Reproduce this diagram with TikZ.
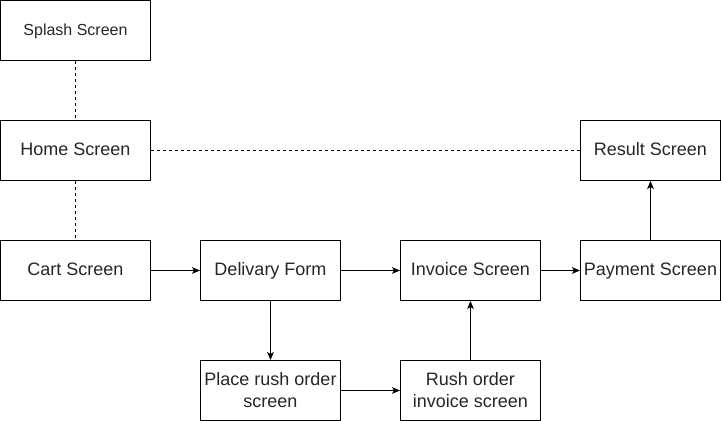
\documentclass[tikz,border=0pt]{standalone}
\usepackage{fontspec}
\setmainfont{Liberation Sans}
\usetikzlibrary{arrows.meta}
\begin{document}
\begin{tikzpicture}[x=0.75pt,y=-0.75pt,
  scr/.style={draw=black,line width=0.75pt,minimum height=45pt,inner sep=2pt,align=center,font=\fontsize{13.5}{16.5}\selectfont,text=black!85},
  one/.style={text height=9.8pt,text depth=2.9pt},
  wide/.style={scr,minimum width=112.5pt},
  narrow/.style={scr,minimum width=105pt},
  flow/.style={line width=0.75pt,-{Stealth[length=6pt,width=5pt,inset=1.5pt]}},
  link/.style={line width=0.75pt,dashed,dash pattern=on 2.25pt off 2.25pt}]
\useasboundingbox (0,0) rectangle (721,421);
\node[wide,one,font=\fontsize{12}{14}\selectfont] (splash) at (75.5,30.5) {Splash Screen};
\node[wide,one] (home) at (75.5,150.5) {Home Screen};
\node[wide,one] (cart) at (75.5,270.5) {Cart Screen};
\node[narrow,one] (deliv) at (270.5,270.5) {Delivary Form};
\node[narrow,one] (inv) at (470.5,270.5) {Invoice Screen};
\node[narrow,one] (pay) at (650.5,270.5) {Payment Screen};
\node[narrow,one] (res) at (650.5,150.5) {Result Screen};
\node[narrow] (rush) at (270.5,390.5) {Place rush order\\screen};
\node[narrow] (rinv) at (470.5,390.5) {Rush order\\invoice screen};
\draw[link] (splash) -- (home);
\draw[link] (home) -- (cart);
\draw[link] (home) -- (res);
\draw[flow] (cart) -- (deliv);
\draw[flow] (deliv) -- (inv);
\draw[flow] (inv) -- (pay);
\draw[flow] (pay) -- (res);
\draw[flow] (deliv) -- (rush);
\draw[flow] (rush) -- (rinv);
\draw[flow] (rinv) -- (inv);
\end{tikzpicture}
\end{document}
